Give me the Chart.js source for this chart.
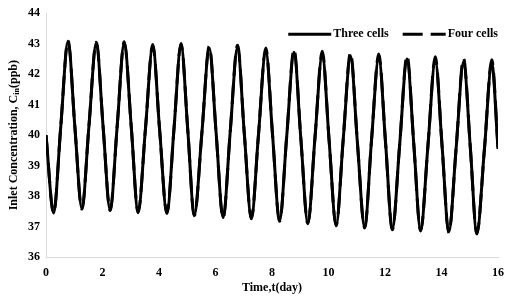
<!DOCTYPE html>
<html lang="en">
<head>
  <meta charset="UTF-8" />
  <title>Inlet Concentration</title>
  <script src="https://cdn.jsdelivr.net/npm/chart.js"></script>
  <style>
    body { margin: 0; background: #fff; }
  </style>
</head>
<body>
  <canvas id="chart" width="510" height="297"></canvas>

  <script>
    // time (day) at each read point: start, then trough / rising mid / peak / falling mid per cycle
    const days = [
      0,
      0.27, 0.52, 0.78, 1.02,
      1.27, 1.52, 1.78, 2.02,
      2.27, 2.52, 2.77, 3.02,
      3.26, 3.52, 3.78, 4.02,
      4.28, 4.53, 4.78, 5.02,
      5.25, 5.52, 5.78, 6.02,
      6.27, 6.52, 6.78, 7.02,
      7.27, 7.52, 7.78, 8.02,
      8.27, 8.52, 8.78, 9.02,
      9.27, 9.52, 9.78, 10.02,
      10.27, 10.52, 10.78, 11.02,
      11.28, 11.52, 11.78, 12.02,
      12.26, 12.52, 12.78, 13.02,
      13.26, 13.52, 13.78, 14.02,
      14.26, 14.52, 14.78, 15.02,
      15.25, 15.52, 15.78,
      16
    ];

    const threeCells = [
      40.0,
      37.45, 40.25, 43.08, 40.3,
      37.6, 40.3, 43.02, 40.3,
      37.55, 40.3, 43.03, 40.25,
      37.48, 40.2, 42.93, 40.2,
      37.45, 40.2, 42.97, 40.15,
      37.38, 40.1, 42.85, 40.1,
      37.3, 40.1, 42.88, 40.05,
      37.28, 40.0, 42.77, 40.0,
      37.2, 39.95, 42.72, 39.9,
      37.12, 39.9, 42.65, 39.85,
      37.05, 39.85, 42.6, 39.8,
      36.98, 39.8, 42.55, 39.75,
      36.92, 39.7, 42.5, 39.7,
      36.88, 39.65, 42.45, 39.65,
      36.83, 39.6, 42.4, 39.6,
      36.78, 39.55, 42.35,
      39.55
    ];

    const fourCells = [
      40.0,
      37.45, 40.25, 43.1, 40.3,
      37.58, 40.3, 43.05, 40.3,
      37.53, 40.3, 43.06, 40.25,
      37.46, 40.2, 42.97, 40.2,
      37.43, 40.2, 43.01, 40.15,
      37.36, 40.1, 42.92, 40.1,
      37.28, 40.1, 42.95, 40.05,
      37.26, 40.0, 42.86, 40.0,
      37.18, 39.95, 42.82, 39.9,
      37.1, 39.9, 42.75, 39.85,
      37.03, 39.85, 42.71, 39.8,
      36.96, 39.8, 42.66, 39.75,
      36.9, 39.7, 42.61, 39.7,
      36.86, 39.65, 42.57, 39.65,
      36.81, 39.6, 42.52, 39.6,
      36.76, 39.55, 42.47,
      39.6
    ];

    const seriesNames = ['Three cells', 'Four cells'];
    const xTitle = 'Time,t(day)';
    const yTitleMain = 'Inlet Concentration, C';
    const yTitleSub = 'in';
    const yTitleUnit = '(ppb)';

    const FONT = '"Liberation Serif", "Times New Roman", serif';
    const BIG = 'bold 12px ' + FONT;
    const SMALL = 'bold 8px ' + FONT;

    // y axis title with a real subscript, drawn by hand
    const yTitlePlugin = {
      id: 'yTitle',
      afterDraw(chart) {
        const ctx = chart.ctx;
        const area = chart.chartArea;
        ctx.save();
        ctx.font = BIG;
        const w1 = ctx.measureText(yTitleMain).width;
        const w3 = ctx.measureText(yTitleUnit).width;
        ctx.font = SMALL;
        const w2 = ctx.measureText(yTitleSub).width;
        const total = w1 + w2 + w3;
        ctx.translate(14, (area.top + area.bottom) / 2);
        ctx.rotate(-Math.PI / 2);
        ctx.fillStyle = '#000';
        ctx.textBaseline = 'middle';
        let x = -total / 2;
        ctx.font = BIG;
        ctx.fillText(yTitleMain, x, 0);
        x += w1;
        ctx.font = SMALL;
        ctx.fillText(yTitleSub, x, 3);
        x += w2;
        ctx.font = BIG;
        ctx.fillText(yTitleUnit, x, 0);
        ctx.restore();
      }
    };

    // legend inside the plot, top right, line samples taken from the datasets
    const legendPlugin = {
      id: 'insideLegend',
      afterDraw(chart) {
        const ctx = chart.ctx;
        const area = chart.chartArea;
        const sample = 43, gap = 2, between = 14;
        const y = area.top + 21;
        ctx.save();
        ctx.font = BIG;
        const items = chart.data.datasets.map(ds => ({ ds, w: ctx.measureText(ds.label).width }));
        let total = items.reduce((s, it) => s + sample + gap + it.w, 0) + between * (items.length - 1);
        let x = area.right - total;
        items.forEach(it => {
          ctx.strokeStyle = it.ds.borderColor;
          ctx.lineWidth = it.ds.borderWidth;
          ctx.setLineDash(it.ds.borderDash || []);
          ctx.beginPath();
          ctx.moveTo(x, y);
          ctx.lineTo(x + sample, y);
          ctx.stroke();
          ctx.setLineDash([]);
          ctx.fillStyle = '#000';
          ctx.textBaseline = 'middle';
          ctx.fillText(it.ds.label, x + sample + gap, y);
          x += sample + gap + it.w + between;
        });
        ctx.restore();
      }
    };

    const toPoints = arr => arr.map((v, i) => ({ x: days[i], y: v }));

    new Chart(document.getElementById('chart').getContext('2d'), {
      type: 'line',
      data: {
        datasets: [
          {
            label: seriesNames[0],
            data: toPoints(threeCells),
            borderColor: '#000',
            borderWidth: 3,
            pointRadius: 0,
            cubicInterpolationMode: 'monotone'
          },
          {
            label: seriesNames[1],
            data: toPoints(fourCells),
            borderColor: '#000',
            borderWidth: 3,
            borderDash: [20, 8],
            pointRadius: 0,
            cubicInterpolationMode: 'monotone'
          }
        ]
      },
      options: {
        responsive: false,
        animation: false,
        layout: { padding: { left: 22, right: 12, top: 7, bottom: 2 } },
        plugins: {
          legend: { display: false },
          tooltip: { enabled: false }
        },
        scales: {
          x: {
            type: 'linear',
            min: 0,
            max: 16,
            grid: { display: false, drawTicks: false },
            border: { display: true, color: '#d9d9d9', width: 1 },
            ticks: {
              stepSize: 2,
              padding: 9,
              color: '#000',
              font: { family: FONT, size: 12, weight: 'bold' }
            },
            title: {
              display: true,
              text: xTitle,
              color: '#000',
              padding: { top: -9, bottom: 0 },
              font: { family: FONT, size: 12, weight: 'bold' }
            },
            afterFit(scale) {
              // the last tick label fits in the layout padding
              scale.paddingRight = 0;
            }
          },
          y: {
            min: 36,
            max: 44,
            grid: { display: false, drawTicks: false },
            border: { display: true, color: '#d9d9d9', width: 1 },
            ticks: {
              stepSize: 1,
              padding: 6,
              color: '#000',
              font: { family: FONT, size: 12, weight: 'bold' }
            }
          }
        }
      },
      plugins: [yTitlePlugin, legendPlugin]
    });
  </script>
</body>
</html>
